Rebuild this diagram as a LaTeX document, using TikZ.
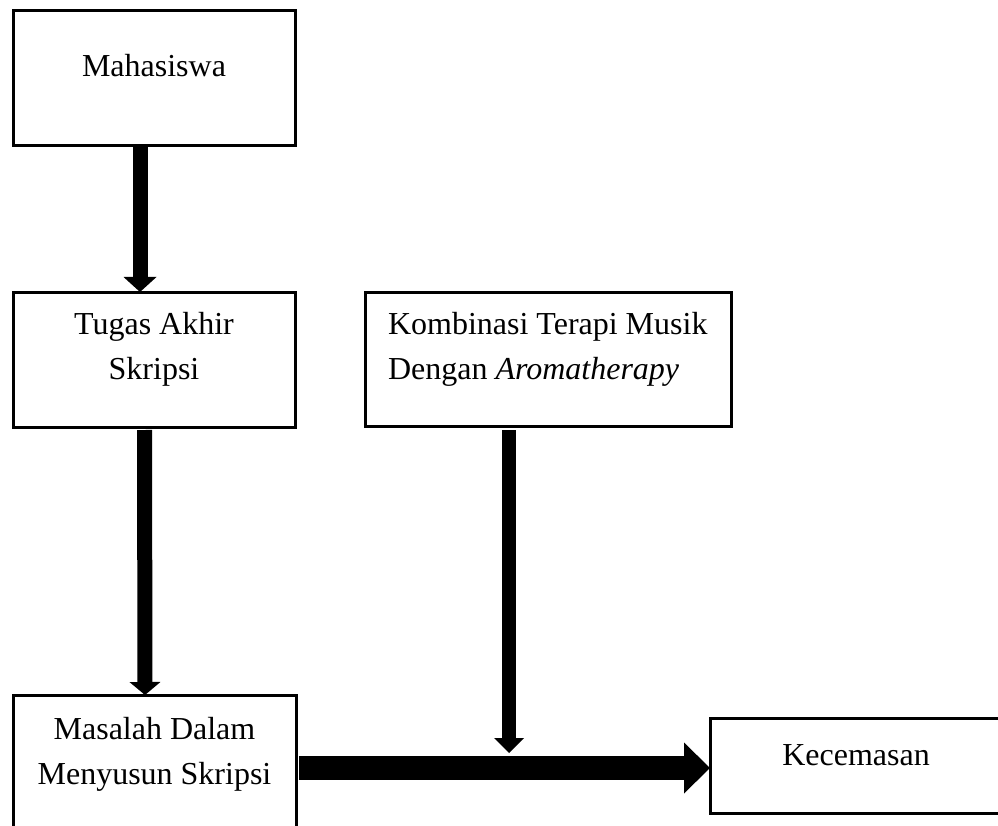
\documentclass[tikz,border=0pt]{standalone}
\usepackage{fontspec}
\setmainfont{Liberation Serif}
\usetikzlibrary{arrows.meta}
\begin{document}
\begin{tikzpicture}[x=1pt,y=-1pt,
  box/.style={draw, line width=3pt, inner sep=0pt, outer sep=0pt, font=\fontsize{32}{45}\selectfont},
  blk/.style={line width=15pt, -{Triangle[width=33pt,length=15pt,line width=0pt]}}]
\useasboundingbox (0,0) rectangle (998,826);
\clip (0,0) rectangle (998,826);
\node[box] (m) at (154,78.5) {\parbox[b][135pt][t]{282pt}{\centering\rule{0pt}{66pt}Mahasiswa}};
\node[box] (t) at (154,359.5) {\parbox[b][135pt][t]{282pt}{\centering\rule{0pt}{42pt}Tugas Akhir\\Skripsi}};
\node[box] (k) at (548,359) {\parbox[b][134pt][t]{366pt}{\raggedright\leftskip=23pt\rule{0pt}{42pt}Kombinasi Terapi Musik\\Dengan \textit{Aromatherapy}}};
\node[box] (s) at (154.5,770) {\parbox[b][150pt][t]{283pt}{\centering\rule{0pt}{44pt}Masalah Dalam\\Menyusun Skripsi}};
\node[box] (c) at (856,765.5) {\parbox[b][95pt][t]{292pt}{\centering\rule{0pt}{47pt}Kecemasan}};
\coordinate (j) at (509,753);
\coordinate (hy) at (0,768);
\draw[blk] ([xshift=-14pt]m.south) -- ([xshift=-14pt]t.north);
\draw[line width=15pt, -{Triangle[width=31pt,length=13pt,line width=0pt]}, shorten <=3pt] ([xshift=-9.5pt]t.south) -- ([xshift=-9.5pt]s.north);
\draw[line width=14pt, -{Triangle[width=30pt,length=15pt,line width=0pt]}, shorten <=4pt] (k.south -| j) -- (j);
\draw[line width=24pt, -{Triangle[width=51pt,length=26pt,line width=0pt]}, shorten <=3pt] (s.east |- hy) -- (c.west |- hy);
\end{tikzpicture}
\end{document}
